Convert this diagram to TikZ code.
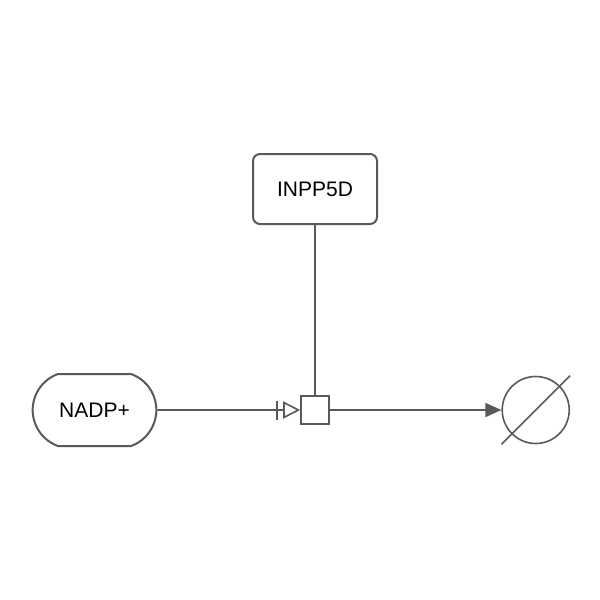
\documentclass[tikz,border=0pt]{standalone}
\usepackage{fontspec}
\setmainfont{Liberation Sans}
\usetikzlibrary{arrows.meta,shapes.misc}
\definecolor{edgegray}{HTML}{595959}

\begin{document}
\begin{tikzpicture}[x = 0.5pt, y = -0.5pt, line width = 0.8pt,
  glyph/.style = {draw = edgegray, line width = 1pt, font = \fontsize{10.5}{12}\selectfont},
  macro/.style = {glyph, rounded corners = 3.5pt, minimum width = 62pt, minimum height = 35pt},
  chem/.style = {glyph, rounded rectangle, rounded rectangle arc length = 140, minimum width = 68.5pt, minimum height = 36pt},
  proc/.style = {glyph, line width = 0.8pt, minimum size = 14pt, inner sep = 0pt},
  sinknode/.style = {glyph, line width = 0.8pt, circle, minimum size = 33.5pt, inner sep = 0pt}]
\useasboundingbox (0,0) rectangle (600,600);
\node [macro] (inpp) at (315,189) {INPP5D};
\node [chem] (nadp) at (94.5,410) {NADP+};
\node [proc] (reac) at (315,410) {};
\node [sinknode] (sink) at (535.7,410) {};
\draw [edgegray] (sink.west |- sink.south) -- (sink.east |- sink.north);
\draw [edgegray, -{Bar[width = 9.5pt, line width = 1.3pt, sep = 2.5pt] Triangle[open, length = 8.5pt, width = 8.5pt, fill = white]}] (nadp) -- (reac);
\draw [edgegray] (inpp) -- (reac);
\draw [edgegray, -{Triangle[length = 8pt, width = 7pt]}] (reac) -- (sink);
\end{tikzpicture}
\end{document}
